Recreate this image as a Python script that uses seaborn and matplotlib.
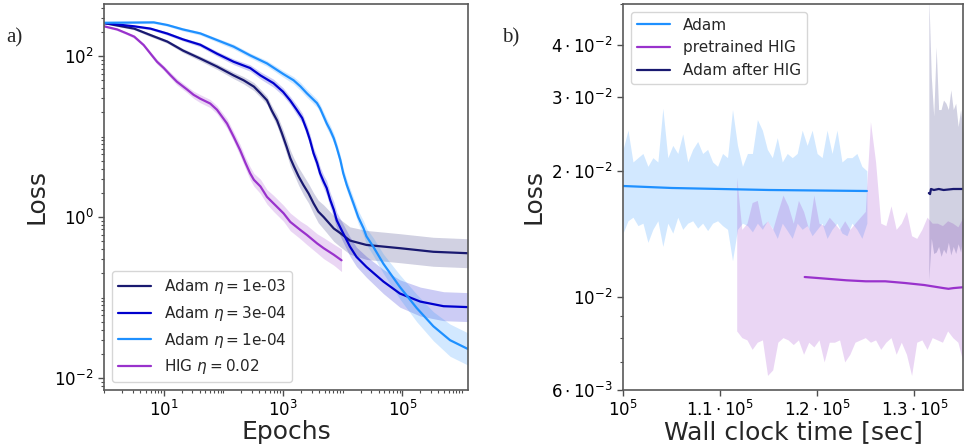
import numpy as np
import pandas as pd
import matplotlib
matplotlib.use("Agg")
import matplotlib.pyplot as plt
import seaborn as sns
from matplotlib.ticker import FixedLocator, NullFormatter, LogLocator

# ---------------- Panel a data ----------------
ep_a1 = [1, 6.8, 11.5, 21, 41, 78, 148, 280, 537, 1000, 1500, 1950, 2500, 3700, 4170,
         5400, 6170, 7080, 7900, 9120, 10200, 11700, 13200, 15100, 18200, 22400, 25000,
         32400, 48000, 91000, 174000, 330000, 630000, 1260000]
loss_a1 = [259, 262, 243, 214, 191, 158, 131, 102, 81, 60, 50, 42, 34.5, 26, 22.4,
           14.5, 12, 9.5, 7.4, 5.1, 3.5, 2.5, 1.95, 1.48, 1.0, 0.72, 0.575,
           0.43, 0.263, 0.135, 0.074, 0.044, 0.0295, 0.0229]
spread_a1 = [0.01, 0.015, 0.015, 0.02, 0.02, 0.025, 0.03, 0.03, 0.035, 0.04, 0.045, 0.05, 0.05,
             0.05, 0.05, 0.06, 0.06, 0.06, 0.06, 0.06, 0.06, 0.07, 0.07, 0.07, 0.08, 0.09, 0.1,
             0.11, 0.12, 0.15, 0.17, 0.18, 0.2, 0.2]

ep_a3 = [1, 3.2, 6, 11.5, 21, 41, 78, 148, 280, 417, 690, 1000, 1320, 1700, 2090, 2500,
         2820, 3240, 3720, 4170, 4790, 5370, 6170, 7080, 7940, 9550, 13200, 17000, 25000,
         48000, 91000, 200000, 490000, 1260000]
loss_a3 = [257, 234, 219, 190, 161, 138, 107, 85, 71, 57.5, 46, 36, 28, 21.4, 17, 12,
           9.1, 6.2, 4.7, 3.5, 2.75, 2.3, 1.63, 1.23, 0.91, 0.69, 0.43, 0.32, 0.24,
           0.158, 0.112, 0.089, 0.078, 0.076]
spread_a3 = [0.01, 0.015, 0.015, 0.02, 0.02, 0.025, 0.03, 0.035, 0.04, 0.045, 0.05, 0.05, 0.05,
             0.06, 0.06, 0.07, 0.07, 0.07, 0.08, 0.08, 0.08, 0.09, 0.09, 0.1, 0.1, 0.11, 0.12,
             0.12, 0.13, 0.15, 0.17, 0.18, 0.18, 0.18]

ep_a10 = [1, 3.2, 6, 11.5, 21, 41, 78, 148, 218, 324, 417, 537, 646, 794, 955, 1150, 1320,
          1510, 1820, 2190, 2690, 3240, 3890, 4790, 7080, 9120, 13200, 25000, 91000,
          330000, 1260000]
loss_a10 = [257, 219, 182, 151, 117, 93, 74, 57.5, 50, 41.7, 34.5, 28.2, 21, 15.8, 11, 7.4,
            5.4, 4.3, 3.2, 2.5, 1.95, 1.48, 1.17, 1.0, 0.72, 0.63, 0.51, 0.45, 0.41,
            0.37, 0.355]
spread_a10 = [0.01, 0.015, 0.02, 0.02, 0.025, 0.03, 0.035, 0.04, 0.045, 0.05, 0.05, 0.05,
              0.06, 0.07, 0.08, 0.09, 0.1, 0.1, 0.11, 0.12, 0.12, 0.13, 0.14, 0.15, 0.16,
              0.17, 0.17, 0.18, 0.18, 0.18, 0.18]

ep_hig = [1, 1.66, 2.4, 3.2, 4.6, 6, 7.7, 10, 12.9, 16.6, 25, 31.6, 41, 60, 78, 115, 148,
          190, 234, 280, 324, 417, 537, 690, 1020, 1320, 1950, 2500, 3720, 4790, 7080, 9550]
loss_hig = [234, 214, 191, 174, 137, 107, 85, 71, 58, 48, 38, 33, 29.5, 25.7, 21.5, 14.5, 10,
            6.8, 4.7, 3.5, 2.9, 2.4, 1.78, 1.48, 1.11, 0.87, 0.69, 0.60, 0.47, 0.41, 0.34, 0.29]
spread_hig = [0.01, 0.015, 0.015, 0.02, 0.02, 0.025, 0.03, 0.03, 0.035, 0.04, 0.04, 0.045,
              0.05, 0.05, 0.05, 0.06, 0.06, 0.07, 0.07, 0.08, 0.08, 0.09, 0.09, 0.1, 0.1, 0.11,
              0.11, 0.12, 0.12, 0.13, 0.13, 0.14]

labels_a = [r"Adam $\eta=$1e-03", r"Adam $\eta=$3e-04", r"Adam $\eta=$1e-04", r"HIG $\eta=$0.02"]

# ---------------- Panel b data ----------------
t_adam = [1.0e5, 1.05e5, 1.10e5, 1.15e5, 1.20e5, 1.251e5]
loss_adam = [0.0184, 0.0182, 0.0181, 0.0180, 0.01795, 0.0179]
adam_noise_hi = [2.25, 2.5, 2.1, 2.15, 2.2, 2.05, 2.15, 2.1, 2.82, 2.15, 2.3, 2.2, 2.45, 2.1,
                 2.25, 2.35, 2.2, 2.25, 2.1, 2.05, 2.2, 2.15, 2.8, 2.3, 2.05, 2.2, 2.2, 2.65,
                 2.5, 2.25, 2.15, 2.4, 2.1, 2.2, 2.15, 2.2, 2.5, 2.3, 2.5, 2.2, 2.15, 2.5, 2.2,
                 2.5, 2.1, 2.15, 2.15, 2.2, 2.05, 2.0]
adam_noise_lo = [1.42, 1.52, 1.55, 1.48, 1.5, 1.35, 1.45, 1.52, 1.32, 1.5, 1.42, 1.55, 1.45, 1.5,
                 1.52, 1.46, 1.5, 1.44, 1.5, 1.52, 1.48, 1.45, 1.22, 1.45, 1.5, 1.48, 1.43, 1.5,
                 1.45, 1.52, 1.46, 1.38, 1.5, 1.44, 1.38, 1.5, 1.45, 1.48, 1.4, 1.45, 1.5, 1.38,
                 1.45, 1.5, 1.42, 1.4, 1.5, 1.45, 1.38, 1.5]

t_hig = [1.187e5, 1.20e5, 1.23e5, 1.25e5, 1.27e5, 1.29e5, 1.31e5, 1.33e5, 1.335e5, 1.34e5, 1.35e5]
loss_hig_b = [0.01116, 0.0111, 0.01096, 0.0109, 0.0109, 0.0108, 0.01068, 0.0105, 0.01046, 0.0105, 0.01055]
hig_noise_hi = [1.93, 1.45, 1.5, 1.68, 1.70, 1.48, 1.52, 1.45, 1.6, 1.75, 1.65, 1.5, 1.7, 1.6,
                1.45, 1.75, 1.5, 1.48, 1.55, 1.5, 1.45, 1.52, 1.45, 1.5, 1.55, 1.6, 2.62, 2.1,
                1.5, 1.48, 1.65, 1.45, 1.5, 1.6, 1.4, 1.38, 1.45, 1.55, 1.5, 1.5, 1.48, 1.52,
                1.5, 1.47, 1.55]
hig_noise_lo = [0.83, 0.80, 0.79, 0.75, 0.78, 0.79, 0.65, 0.67, 0.78, 0.80, 0.79, 0.77, 0.79, 0.73,
                0.78, 0.76, 0.79, 0.70, 0.78, 0.78, 0.79, 0.70, 0.73, 0.78, 0.79, 0.80, 0.78, 0.79,
                0.75, 0.78, 0.80, 0.73, 0.78, 0.73, 0.65, 0.78, 0.79, 0.75, 0.80, 0.79, 0.78, 0.83,
                0.80, 0.78, 0.70]

t_after = [1.3148e5, 1.316e5, 1.317e5, 1.32e5, 1.325e5, 1.33e5, 1.34e5, 1.35e5]
loss_after = [0.0177, 0.0176, 0.0181, 0.0180, 0.0181, 0.0180, 0.0181, 0.0181]
after_noise_hi = [5.2, 3.36, 2.7, 3.95, 2.8, 2.8, 2.95, 2.9, 2.8, 3.12, 2.8, 2.9, 2.55, 2.8, 2.46]
after_noise_lo = [1.10, 1.38, 1.27, 1.28, 1.32, 1.25, 1.30, 1.27, 1.35, 1.26, 1.32, 1.27, 1.34, 1.28, 1.40]

labels_b = ["Adam", "pretrained HIG", "Adam after HIG"]

# ---------------- styling ----------------
sns.set_theme(style="ticks")
plt.rcParams["font.family"] = ["DejaVu Sans"]
plt.rcParams["mathtext.fontset"] = "dejavusans"

c_navy = "#191970"
c_mid = "#0000cd"
c_light = "#1e90ff"
c_purple = "#9932cc"

fig = plt.figure(figsize=(9.64, 4.46), dpi=100)
ax1 = fig.add_axes([0.108, 0.1256, 0.3775, 0.8654])
ax2 = fig.add_axes([0.6463, 0.1256, 0.3527, 0.8654])

# ---- panel a ----
series_a = [
    (ep_a10, loss_a10, spread_a10, c_navy, labels_a[0]),
    (ep_a3, loss_a3, spread_a3, c_mid, labels_a[1]),
    (ep_a1, loss_a1, spread_a1, c_light, labels_a[2]),
    (ep_hig, loss_hig, spread_hig, c_purple, labels_a[3]),
]
for ep, ls, sp, col, lab in series_a:
    ep = np.asarray(ep, float)
    ls = np.asarray(ls, float)
    sp = np.asarray(sp, float)
    ax1.fill_between(ep, ls / 10 ** sp, ls * 10 ** sp, color=col, alpha=0.2, lw=0)
for ep, ls, sp, col, lab in series_a:
    df = pd.DataFrame({"epoch": ep, "loss": ls})
    sns.lineplot(data=df, x="epoch", y="loss", color=col, lw=1.6, ax=ax1, label=lab)

ax1.set_xscale("log")
ax1.set_yscale("log")
ax1.set_xlim(1, 1.26e6)
ax1.set_ylim(0.0071, 443)
ax1.xaxis.set_major_locator(FixedLocator([1e1, 1e3, 1e5]))
ax1.xaxis.set_minor_locator(LogLocator(base=10, subs=np.arange(1, 10), numticks=30))
ax1.xaxis.set_minor_formatter(NullFormatter())
ax1.yaxis.set_major_locator(FixedLocator([1e-2, 1e0, 1e2]))
ax1.yaxis.set_minor_locator(LogLocator(base=10, subs=np.arange(1, 10), numticks=30))
ax1.yaxis.set_minor_formatter(NullFormatter())
ax1.set_xticklabels([r"$10^{1}$", r"$10^{3}$", r"$10^{5}$"])
ax1.set_yticklabels([r"$10^{-2}$", r"$10^{0}$", r"$10^{2}$"])
ax1.set_xlabel("Epochs", fontsize=18, labelpad=0)
ax1.set_ylabel("Loss", fontsize=18, labelpad=4)
ax1.legend(loc="lower left", fontsize=11, handlelength=2.2)

# ---- panel b ----
tb_adam = np.linspace(t_adam[0], t_adam[-1], len(adam_noise_hi))
tb_hig = np.linspace(1.117e5, 1.35e5, len(hig_noise_hi))
tb_after = np.linspace(t_after[0], 1.35e5, len(after_noise_hi))

ax2.fill_between(tb_adam, np.array(adam_noise_lo) * 1e-2, np.array(adam_noise_hi) * 1e-2,
                 color=c_light, alpha=0.2, lw=0)
ax2.fill_between(tb_hig, np.array(hig_noise_lo) * 1e-2, np.array(hig_noise_hi) * 1e-2,
                 color=c_purple, alpha=0.2, lw=0)
ax2.fill_between(tb_after, np.array(after_noise_lo) * 1e-2, np.array(after_noise_hi) * 1e-2,
                 color=c_navy, alpha=0.2, lw=0)

for t, ls, col, lab in [(t_adam, loss_adam, c_light, labels_b[0]),
                        (t_hig, loss_hig_b, c_purple, labels_b[1]),
                        (t_after, loss_after, c_navy, labels_b[2])]:
    df = pd.DataFrame({"time": t, "loss": ls})
    sns.lineplot(data=df, x="time", y="loss", color=col, lw=1.6, ax=ax2, label=lab)

ax2.set_yscale("log")
ax2.set_xlim(1e5, 1.35e5)
ax2.set_ylim(6e-3, 5e-2)
ax2.yaxis.set_major_locator(FixedLocator([6e-3, 1e-2, 2e-2, 3e-2, 4e-2]))
ax2.yaxis.set_minor_locator(FixedLocator([7e-3, 8e-3, 9e-3, 5e-2]))
ax2.yaxis.set_minor_formatter(NullFormatter())
ax2.set_yticklabels([r"$6\cdot10^{-3}$", r"$10^{-2}$", r"$2\cdot10^{-2}$",
                     r"$3\cdot10^{-2}$", r"$4\cdot10^{-2}$"])
ax2.xaxis.set_major_locator(FixedLocator([1.0e5, 1.1e5, 1.2e5, 1.3e5]))
ax2.set_xticklabels([r"$10^{5}$", r"$1.1\cdot10^{5}$", r"$1.2\cdot10^{5}$", r"$1.3\cdot10^{5}$"])
ax2.set_xlabel("Wall clock time [sec]", fontsize=18, labelpad=0)
ax2.set_ylabel("Loss", fontsize=18, labelpad=4)
ax2.legend(loc="upper left", fontsize=11, handlelength=2.2)

for ax in (ax1, ax2):
    ax.tick_params(axis="both", which="major", labelsize=12, length=4, width=1,
                   color="0.3", labelcolor="black")
    ax.tick_params(axis="both", which="minor", length=2, width=0.8, color="0.3")
    for s in ax.spines.values():
        s.set_color("0.35")
        s.set_linewidth(1.2)

fig.text(0.007, 0.905, "a)", fontsize=15, family="Liberation Serif")
fig.text(0.521, 0.905, "b)", fontsize=15, family="Liberation Serif")

fig.savefig("out.png", dpi=100)
